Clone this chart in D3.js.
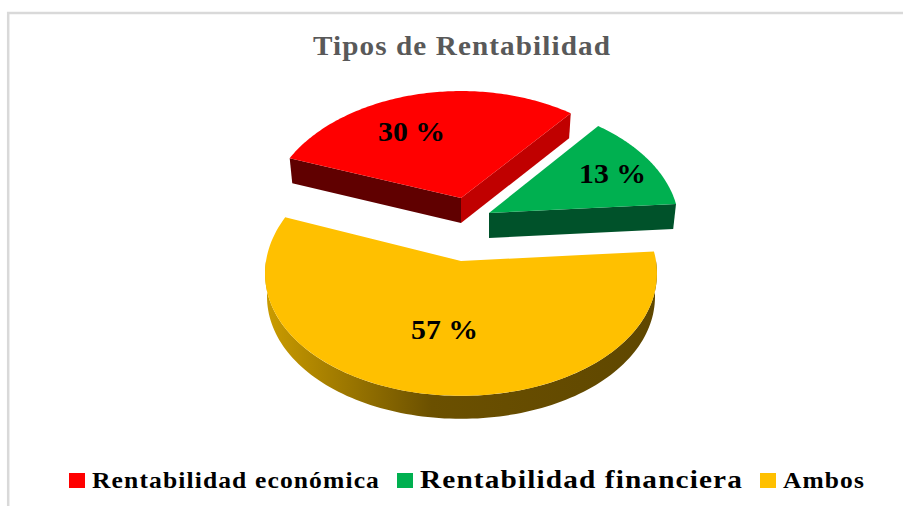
<!DOCTYPE html>
<html>
<head>
<meta charset="utf-8">
<script src="https://cdn.jsdelivr.net/npm/d3@7"></script>
<style>
body { margin: 0; background: #fff; }
text { font-family: "Liberation Serif", serif; font-weight: bold; }
</style>
</head>
<body>
<div id="chart"></div>
<script>
var width = 903,
    height = 506;

var categories = ["Rentabilidad económica", "Rentabilidad financiera", "Ambos"];
var values = [30, 13, 57];
var labels = ["30 %", "13 %", "57 %"];
var colors = ["#ff0000", "#00b050", "#ffc000"];

// where each exploded slice sits, and how it is tilted
var sliceLayout = [
    { cx: 461, cy: 198, rx: 190, ry: 115, depth: 25, lx: 411.5, ly: 141, lw: 67 },
    { cx: 489, cy: 213, rx: 189, ry: 118, depth: 25, lx: 612.5, ly: 183, lw: 67 },
    { cx: 461, cy: 261, rx: 195, ry: 126, depth: 23, lx: 444.5, ly: 339, lw: 67 }
];
var legendLayout = [
    { sx: 69, x: 92, w: 288, size: 23 },
    { sx: 397, x: 420, w: 323, size: 26 },
    { sx: 760, x: 783, w: 82, size: 23 }
];

var svg = d3.select("#chart")
    .append("svg")
    .attr("width", width)
    .attr("height", height)
    .style("display", "block");

// frame, cut off by the right and bottom of the picture
svg.append("path")
    .attr("d", "M8.2,506V13H903")
    .attr("fill", "none")
    .attr("stroke", "#d9d9d9")
    .attr("stroke-width", 2.5);

var grad = svg.append("defs").append("linearGradient")
    .attr("id", "rim")
    .attr("gradientUnits", "userSpaceOnUse")
    .attr("x1", 270).attr("x2", 655).attr("y1", 0).attr("y2", 0);
grad.append("stop").attr("offset", "0").attr("stop-color", "#c89a00");
grad.append("stop").attr("offset", "0.42").attr("stop-color", "#6b5000");
grad.append("stop").attr("offset", "1").attr("stop-color", "#5f4700");

svg.append("text")
    .text("Tipos de Rentabilidad")
    .attr("x", 313)
    .attr("y", 55)
    .attr("textLength", 298)
    .attr("lengthAdjust", "spacingAndGlyphs")
    .style("letter-spacing", "1px")
    .style("font-size", "27px")
    .style("fill", "#595959");

// starts at the left edge of the red slice, clockwise
var pie = d3.pie().sort(null).startAngle(290.8 * Math.PI / 180).endAngle((290.8 + 360) * Math.PI / 180);
var arcs = pie(values);

// tilted disc with a bit of perspective: the back is narrower than the front
function project(l, a, k) {
    var s = Math.sin(a), c = Math.cos(a);
    return [l.cx + k * l.rx * s * (1 - 0.1 * c), l.cy - k * l.ry * c * (1 - 0.07 * c)];
}

function arcPoints(l, a0, a1) {
    return d3.range(0, 1.0001, 1 / 120).map(function(t) {
        return project(l, a0 + (a1 - a0) * t, 1);
    });
}

var line = d3.line();

function drawWalls(i) {
    var l = sliceLayout[i], d = arcs[i];
    var apex = [l.cx, l.cy];
    // the lower edge of a wall is a little shorter than the upper one
    function wall(a, fill) {
        var p = project(l, a, 1);
        var q = project(l, a, 0.985);
        svg.append("path")
            .attr("d", line([apex, p, [q[0], p[1] + l.depth], [apex[0], apex[1] + l.depth]]) + "Z")
            .attr("fill", fill);
    }
    if (i == 0) {
        wall(d.startAngle, "#600000");
        wall(d.endAngle, "#c00000");
    } else if (i == 1) {
        wall(d.endAngle, "#00522a");
    } else {
        // only the front half of the big slice shows its side
        var top = arcPoints(l, Math.PI / 2, Math.PI * 1.5);
        var bottom = top.map(function(p) {
            return [l.cx + (p[0] - l.cx) * 0.99, p[1] + l.depth];
        }).reverse();
        svg.append("path")
            .attr("d", line(top.concat(bottom)) + "Z")
            .attr("fill", "url(#rim)");
    }
}

arcs.forEach(function(d, i) {
    var l = sliceLayout[i];
    drawWalls(i);
    svg.append("path")
        .attr("d", line([[l.cx, l.cy]].concat(arcPoints(l, d.startAngle, d.endAngle))) + "Z")
        .attr("fill", colors[i]);
});

arcs.forEach(function(d, i) {
    var l = sliceLayout[i];
    svg.append("text")
        .text(labels[i])
        .attr("x", l.lx - l.lw / 2)
        .attr("y", l.ly)
        .attr("textLength", l.lw)
        .attr("lengthAdjust", "spacingAndGlyphs")
        .style("font-size", "27px")
        .style("fill", "#000");
});

categories.forEach(function(name, i) {
    var l = legendLayout[i];
    svg.append("rect")
        .attr("x", l.sx)
        .attr("y", 473)
        .attr("width", 16)
        .attr("height", 15)
        .attr("fill", colors[i]);
    svg.append("text")
        .text(name)
        .attr("x", l.x)
        .attr("y", 488)
        .attr("textLength", l.w)
        .attr("lengthAdjust", "spacingAndGlyphs")
        .style("letter-spacing", "1px")
        .style("font-size", l.size + "px")
        .style("fill", "#000");
});
</script>
</body>
</html>
